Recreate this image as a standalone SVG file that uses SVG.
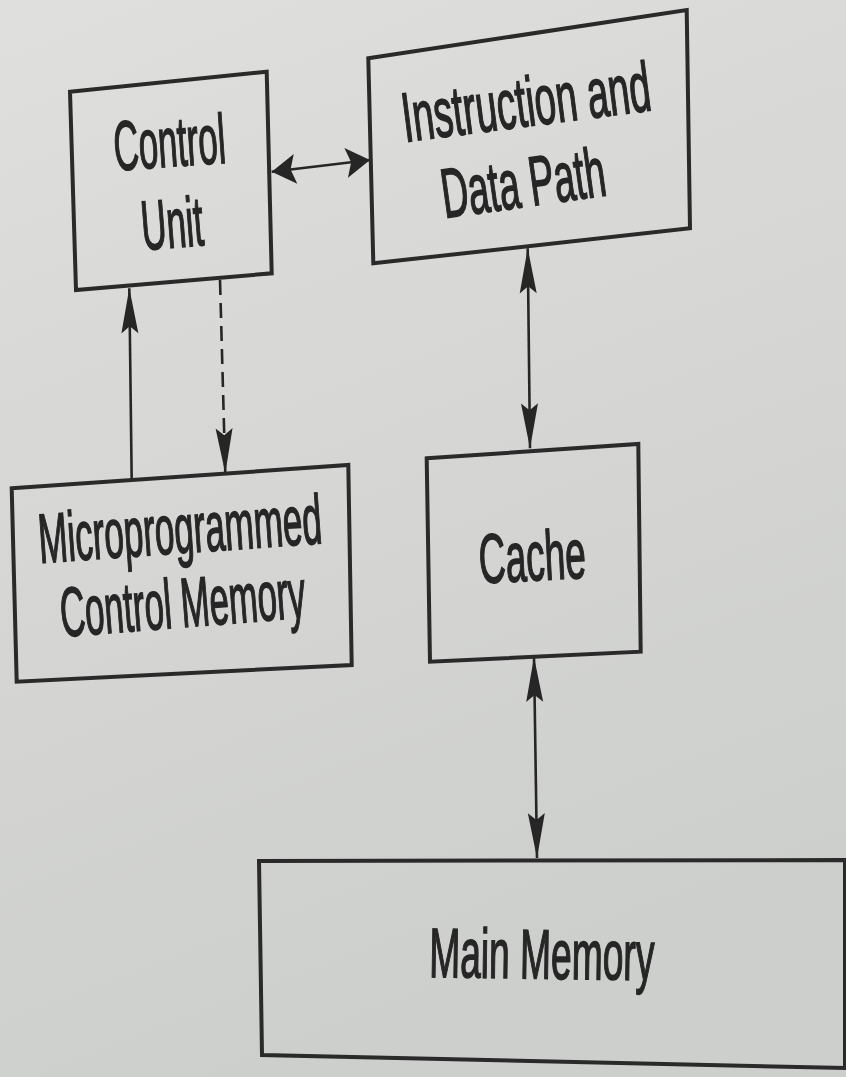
<svg xmlns="http://www.w3.org/2000/svg" width="846" height="1077" viewBox="0 0 846 1077">
  <defs>
    <linearGradient id="paper" x1="0" y1="0" x2="0.3" y2="1">
      <stop offset="0" stop-color="#dfdfdd"/>
      <stop offset="0.5" stop-color="#d6d7d5"/>
      <stop offset="1" stop-color="#cdcfcd"/>
    </linearGradient>
    <!-- long, narrow head used on the vertical connectors -->
    <marker id="headV" markerUnits="userSpaceOnUse" markerWidth="52" markerHeight="24" viewBox="-48 -12 50 24" refX="0" refY="0" orient="auto-start-reverse">
      <path d="M0,0 L-45,-8.5 L-38,0 L-45,8.5 Z" fill="#262626"/>
    </marker>
    <!-- short, wide head used on the horizontal connector -->
    <marker id="headH" markerUnits="userSpaceOnUse" markerWidth="30" markerHeight="36" viewBox="-26 -18 28 36" refX="0" refY="0" orient="auto-start-reverse">
      <path d="M0,0 L-24,-15 L-19,0 L-24,15 Z" fill="#262626"/>
    </marker>
  </defs>
  <style>
    .box { fill: none; stroke: #2a2a2a; stroke-width: 4; stroke-linejoin: miter; }
    .lbl { font-family: "Liberation Sans", Arial, sans-serif; font-size: 70px; fill: #262626; stroke: #262626; stroke-width: 1.6; text-anchor: middle; }
    .wire { fill: none; stroke: #262626; stroke-width: 2.6; }
    .dash { stroke-dasharray: 15 8; }
  </style>

  <rect x="0" y="0" width="846" height="1077" fill="url(#paper)"/>

  <!-- connectors -->
  <g id="connectors">
    <line class="wire" x1="271.7" y1="171.7" x2="370" y2="160" marker-start="url(#headH)" marker-end="url(#headH)"/>
    <line class="wire" x1="131.7" y1="480" x2="129.3" y2="288.3" marker-end="url(#headV)"/>
    <line class="wire dash" x1="220" y1="280" x2="225.3" y2="473.3" marker-end="url(#headV)"/>
    <line class="wire" x1="527.7" y1="248.3" x2="530" y2="448.3" marker-start="url(#headV)" marker-end="url(#headV)"/>
    <line class="wire" x1="534" y1="657" x2="537" y2="858" marker-start="url(#headV)" marker-end="url(#headV)"/>
  </g>

  <!-- Control Unit -->
  <g id="control-unit">
    <polygon class="box" points="70,91.7 266.7,71.7 271.7,273.3 76,290"/>
    <text class="lbl" transform="translate(171 166.5) rotate(-4) scale(0.496 1)">Control</text>
    <text class="lbl" transform="translate(174 247.5) rotate(-4.5) scale(0.498 1)">Unit</text>
  </g>

  <!-- Instruction and Data Path -->
  <g id="instruction-data-path">
    <polygon class="box" points="368.3,58.3 686.7,10 690,228.3 373.3,263.3"/>
    <text class="lbl" transform="translate(529 126) rotate(-7.3) scale(0.545 1)">Instruction and</text>
    <text class="lbl" transform="translate(526.5 206.5) rotate(-8) scale(0.53 1)">Data Path</text>
  </g>

  <!-- Microprogrammed Control Memory -->
  <g id="micro-control-memory">
    <polygon class="box" points="11.7,488.3 348.3,465 351.7,665 16.7,681.7"/>
    <text class="lbl" transform="translate(181.5 553) rotate(-4) scale(0.5 1)">Microprogrammed</text>
    <text class="lbl" transform="translate(184.5 627) rotate(-4.5) scale(0.494 1)">Control Memory</text>
  </g>

  <!-- Cache -->
  <g id="cache">
    <polygon class="box" points="426.7,458.3 638.3,444 640.7,651.7 430,661.7"/>
    <text class="lbl" transform="translate(533.5 580.5) rotate(-3) scale(0.529 1)">Cache</text>
  </g>

  <!-- Main Memory -->
  <g id="main-memory">
    <polygon class="box" points="259,861 845,860 845,1068 262,1055"/>
    <text class="lbl" transform="translate(541.5 978.5) rotate(0.8) scale(0.531 1)">Main Memory</text>
  </g>
</svg>
